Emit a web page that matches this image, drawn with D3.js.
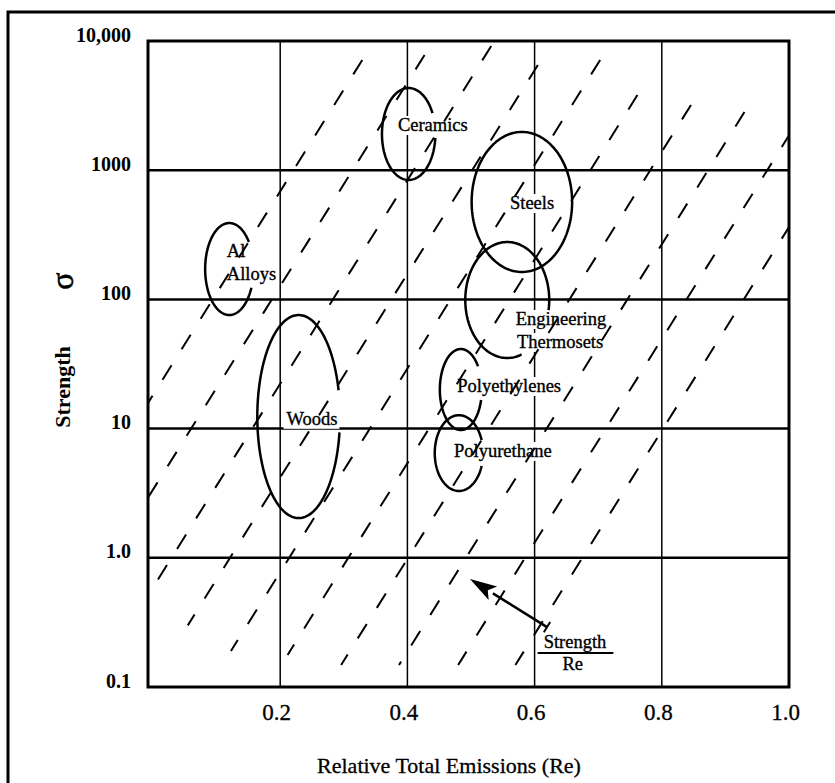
<!DOCTYPE html>
<html>
<head>
<meta charset="utf-8">
<script src="https://cdn.jsdelivr.net/npm/d3@7"></script>
<style>
  html, body { margin: 0; padding: 0; background: #fff; }
  svg { display: block; font-family: "Liberation Serif", "DejaVu Serif", serif; }
  .tick-y text { font-size: 20px; font-weight: bold; }
  .tick-x text { font-size: 23px; stroke: #000; stroke-width: 0.3px; }
  .lbl { font-size: 18.5px; stroke: #000; stroke-width: 0.35px; }
</style>
</head>
<body>
<div class="gv-chart"></div>
<script>
// axis ticks
var xTicks = [0.2, 0.4, 0.6, 0.8, 1.0];
var xTickLabels = ["0.2", "0.4", "0.6", "0.8", "1.0"];
var yTicks = [10000, 1000, 100, 10, 1, 0.1];
var yTickLabels = ["10,000", "1000", "100", "10", "1.0", "0.1"];

// material families: Re range (centre +/- half width) and strength range
var materials = ["Ceramics", "Steels", "Engineering Thermosets", "Polyethylenes", "Polyurethane", "Woods", "Al Alloys"];
var reCenter = [0.402, 0.580, 0.557, 0.484, 0.481, 0.229, 0.120];
var reHalf = [0.042, 0.079, 0.066, 0.033, 0.038, 0.065, 0.038];
var strengthHigh = [4325, 1977, 278, 41.3, 12.7, 75.7, 390];
var strengthLow = [840, 163, 35.2, 9.75, 3.29, 2.03, 75.7];
// part of the outline left open for the label (degrees, 0 = right, clockwise)
var openArc = [[-27, 5], null, [10, 70], [-34, 15], [-20, 20], [-15, 9], [-36, 24]];

// labels written inside the chart
var labelText = ["Ceramics", "Steels", "Engineering", "Thermosets", "Polyethylenes", "Polyurethane", "Woods", "Al", "Alloys"];
var labelRe = [0.440, 0.596, 0.6415, 0.640, 0.560, 0.550, 0.250, 0.116, 0.116];
var labelStrength = [2011, 501, 63.4, 42.1, 19.2, 6.03, 10.7, 213, 141];
var labelAnchor = ["middle", "middle", "middle", "middle", "middle", "middle", "middle", "start", "start"];

// constant strength/Re guide lines: Re where each crosses strength 10, and where it starts / stops
var guideRe10 = [-0.033, 0.060, 0.156, 0.248, 0.341, 0.434, 0.528, 0.619, 0.712, 0.802];
var guideTop = [7130, 7800, 9150, 6520, 7130, 3820, 3200, 2820, 10000, 10000];
var guideBottom = [0.1, 0.1, 0.1, 0.30, 0.19, 0.177, 0.148, 0.148, 0.148, 0.148];
var guideSlope = 7.88; // decades of strength per unit of Re

// arrow pointing towards increasing strength/Re
var arrowTail = [0.6195, 0.291];
var arrowTip = [0.4984, 0.685];

var W = 835, H = 783;
var box = {left: 148, top: 41, right: 789, bottom: 687};

var svg = d3.select(".gv-chart").append("svg").attr("width", W).attr("height", H);

var x = d3.scaleLinear().domain([0, 1]).range([153, 789]);
var y = d3.scaleLog().domain([0.1, 10000]).range([box.bottom, box.top]);

// outer frame (only top and left survive in the scan)
svg.append("path")
  .attr("d", "M8," + H + "V12H" + W)
  .attr("fill", "none").attr("stroke", "#000").attr("stroke-width", 3);

svg.append("defs").append("clipPath").attr("id", "plotclip")
  .append("rect")
  .attr("x", box.left).attr("y", box.top)
  .attr("width", box.right - box.left).attr("height", box.bottom - box.top);

// grid
var g = svg.append("g");
g.selectAll(".hgrid")
  .data(yTicks.filter(function(d) { return d < 10000 && d > 0.1; }))
  .enter().append("line")
  .attr("x1", box.left).attr("x2", box.right)
  .attr("y1", function(d) { return y(d); }).attr("y2", function(d) { return y(d); })
  .attr("stroke", "#000").attr("stroke-width", 2.5);

g.selectAll(".vgrid")
  .data(xTicks.filter(function(d) { return d < 1; }))
  .enter().append("line")
  .attr("x1", function(d) { return x(d); }).attr("x2", function(d) { return x(d); })
  .attr("y1", box.top).attr("y2", box.bottom)
  .attr("stroke", "#000").attr("stroke-width", 1.5);

var labels = labelText.map(function(t, i) {
  return {text: t, re: labelRe[i], s: labelStrength[i], anchor: labelAnchor[i]};
});

var bgLayer = svg.append("g");
var guideLayer = svg.append("g").attr("clip-path", "url(#plotclip)");
var shapeLayer = svg.append("g");
var textLayer = svg.append("g");

// guide lines
var guides = guideRe10.map(function(r, i) {
  var reAt = function(v) { return r + (Math.log10(v) - 1) / guideSlope; };
  return [[reAt(guideTop[i]), guideTop[i]], [reAt(guideBottom[i]), guideBottom[i]]];
});

guideLayer.selectAll("line")
  .data(guides)
  .enter().append("line")
  .attr("x1", function(d) { return x(d[0][0]); })
  .attr("y1", function(d) { return y(d[0][1]); })
  .attr("x2", function(d) { return x(d[1][0]); })
  .attr("y2", function(d) { return y(d[1][1]); })
  .attr("stroke", "#000").attr("stroke-width", 2)
  .attr("stroke-dasharray", "17,19");

// label texts + white backing boxes
var lblSel = textLayer.selectAll("text.lbl")
  .data(labels)
  .enter().append("text")
  .attr("class", "lbl")
  .attr("x", function(d) { return x(d.re); })
  .attr("y", function(d) { return y(d.s); })
  .attr("text-anchor", function(d) { return d.anchor; })
  .text(function(d) { return d.text; });

lblSel.each(function() {
  var b = this.getBBox();
  bgLayer.append("rect")
    .attr("x", b.x - 3).attr("y", b.y + 1)
    .attr("width", b.width + 5).attr("height", b.height - 1)
    .attr("fill", "#fff");
});

// material outlines
var ellipseLine = d3.line()
  .x(function(d) { return x(d[0]); })
  .y(function(d) { return y(d[1]); });

materials.forEach(function(m, i) {
  var lc = (Math.log10(strengthHigh[i]) + Math.log10(strengthLow[i])) / 2;
  var lr = (Math.log10(strengthHigh[i]) - Math.log10(strengthLow[i])) / 2;
  var a0 = 0, a1 = 360;
  if (openArc[i]) { a0 = openArc[i][1]; a1 = openArc[i][0] + 360; }
  var pts = [];
  for (var a = a0; a <= a1 + 0.01; a += 2) {
    var t = a * Math.PI / 180;
    pts.push([reCenter[i] + reHalf[i] * Math.cos(t), Math.pow(10, lc - lr * Math.sin(t))]);
  }
  shapeLayer.append("path")
    .attr("d", ellipseLine(pts))
    .attr("fill", "none").attr("stroke", "#000").attr("stroke-width", 2.5);
});

// plot frame
svg.append("rect")
  .attr("x", box.left).attr("y", box.top)
  .attr("width", box.right - box.left).attr("height", box.bottom - box.top)
  .attr("fill", "none").attr("stroke", "#000").attr("stroke-width", 3);

// axes
var yAxis = svg.append("g")
  .attr("class", "tick-y")
  .attr("transform", "translate(" + box.left + ",0)")
  .call(d3.axisLeft(y).tickValues(yTicks).tickSize(0).tickPadding(17)
    .tickFormat(function(d, i) { return yTickLabels[i]; }));
yAxis.select(".domain").remove();
yAxis.selectAll("text").attr("dy", "0").attr("fill", "#000")
  .style("font-family", "Liberation Serif");

var xAxis = svg.append("g")
  .attr("class", "tick-x")
  .attr("transform", "translate(0," + box.bottom + ")")
  .call(d3.axisBottom(x).tickValues(xTicks).tickSize(0)
    .tickFormat(function(d, i) { return xTickLabels[i]; }));
xAxis.select(".domain").remove();
xAxis.selectAll("text").attr("y", 33).attr("dy", "0").attr("dx", "-4").attr("fill", "#000")
  .style("font-family", "Liberation Serif");

// axis titles
svg.append("text")
  .attr("x", 449).attr("y", 773)
  .attr("text-anchor", "middle")
  .style("font-size", "22px").style("stroke", "#000").style("stroke-width", "0.3px")
  .text("Relative Total Emissions (Re)");

svg.append("text")
  .attr("transform", "translate(70,387) rotate(-90)")
  .attr("text-anchor", "middle")
  .style("font-size", "22px").style("font-weight", "bold")
  .text("Strength");

svg.append("text")
  .attr("transform", "translate(73,281) rotate(-90)")
  .attr("text-anchor", "middle")
  .style("font-size", "32px").style("stroke", "#000").style("stroke-width", "0.6px")
  .text("σ");

// arrow
var ax0 = x(arrowTail[0]), ay0 = y(arrowTail[1]);
var ax1 = x(arrowTip[0]), ay1 = y(arrowTip[1]);
var len = Math.hypot(ax1 - ax0, ay1 - ay0);
var ux = (ax1 - ax0) / len, uy = (ay1 - ay0) / len;
var headL = 27, headW = 8;
var bx = ax1 - ux * headL, by = ay1 - uy * headL;

svg.append("line")
  .attr("x1", ax0).attr("y1", ay0).attr("x2", bx).attr("y2", by)
  .attr("stroke", "#000").attr("stroke-width", 2.5);
svg.append("path")
  .attr("d", "M" + ax1 + "," + ay1 +
    "L" + (bx - uy * headW) + "," + (by + ux * headW) +
    "L" + (bx + ux * 6) + "," + (by + uy * 6) +
    "L" + (bx + uy * headW) + "," + (by - ux * headW) + "Z")
  .attr("fill", "#000");
svg.append("line")
  .attr("x1", ax0 - uy * 6).attr("y1", ay0 + ux * 6)
  .attr("x2", ax0 + uy * 6).attr("y2", ay0 - ux * 6)
  .attr("stroke", "#000").attr("stroke-width", 2);

// ratio label under the arrow
var rTop = svg.append("text").attr("class", "lbl")
  .attr("x", x(0.6635)).attr("y", y(0.2005)).attr("text-anchor", "middle")
  .text("Strength");
svg.append("text").attr("class", "lbl")
  .attr("x", x(0.660)).attr("y", y(0.1355)).attr("text-anchor", "middle")
  .text("Re");
var rb = rTop.node().getBBox();
svg.append("line")
  .attr("x1", rb.x - 6).attr("x2", rb.x + rb.width + 7)
  .attr("y1", rb.y + rb.height + 1).attr("y2", rb.y + rb.height + 1)
  .attr("stroke", "#000").attr("stroke-width", 2);
</script>
</body>
</html>
